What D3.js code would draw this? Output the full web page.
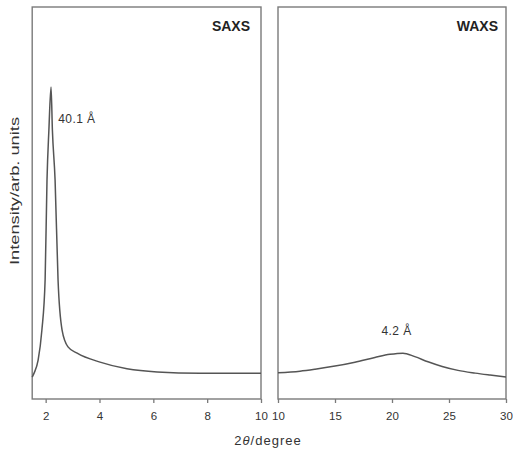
<!DOCTYPE html>
<html>
<head>
<meta charset="utf-8">
<script src="https://cdn.jsdelivr.net/npm/d3@7"></script>
<style>
  body { margin: 0; background: #fff; }
  svg { font-family: "Liberation Sans", Arial, sans-serif; }
</style>
</head>
<body>
<svg id="chart"></svg>
<script>
// SAXS curve (2theta in degrees, intensity in arbitrary units)
const saxs_2theta = [1.5, 1.57, 1.72, 1.86, 1.98, 2.05, 2.12, 2.20, 2.25, 2.35, 2.46, 2.61, 2.83, 3.17, 4.02, 5.02, 6.14, 7.74, 10];
const saxs_intensity = [5.6, 6.6, 9.9, 17.6, 30.4, 55.9, 68.6, 79.6, 68.6, 55.9, 30.4, 17.6, 13.3, 11.7, 9.4, 7.7, 6.9, 6.6, 6.6];

// WAXS curve
const waxs_2theta = [10, 11.93, 13.25, 15.0, 16.75, 18.5, 19.82, 20.96, 22.0, 23.16, 24.4, 25.79, 27.3, 28.6, 30];
const waxs_intensity = [6.7, 7.1, 7.6, 8.4, 9.4, 10.6, 11.4, 11.7, 10.8, 9.5, 8.3, 7.3, 6.6, 6.1, 5.6];

const saxs_ticks = [2, 4, 6, 8, 10];
const waxs_ticks = [10, 15, 20, 25, 30];

const width = 513, height = 451;
const top_y = 7, bottom_y = 399;

const svg = d3.select('#chart')
    .attr('width', width)
    .attr('height', height);

// Shared intensity scale
const y_scale = d3.scaleLinear().domain([0, 100]).range([bottom_y, top_y]);

// One panel per technique
const panels = [
    { name: 'SAXS', xs: saxs_2theta, ys: saxs_intensity, ticks: saxs_ticks,
      x: d3.scaleLinear().domain([1.5, 10]).range([32.2, 261]),
      title_pad: 11, label: '40.1 Å', label_x: 2.47, label_y: 70.3, anchor: 'start' },
    { name: 'WAXS', xs: waxs_2theta, ys: waxs_intensity, ticks: waxs_ticks,
      x: d3.scaleLinear().domain([10, 30]).range([278, 506]),
      title_pad: 8, label: '4.2 Å', label_x: 20.4, label_y: 16.3, anchor: 'middle' }
];

panels.forEach(function (p) {
    const x0 = p.x.range()[0], x1 = p.x.range()[1];

    // Frame around the panel
    svg.append('rect')
        .attr('x', x0).attr('y', top_y)
        .attr('width', x1 - x0).attr('height', bottom_y - top_y)
        .attr('fill', 'none')
        .attr('stroke', '#7a7a7a')
        .attr('stroke-width', 1.4);

    // Bottom axis with tick marks pointing outwards
    const axis = svg.append('g')
        .attr('transform', 'translate(0,' + bottom_y + ')')
        .call(d3.axisBottom(p.x).tickValues(p.ticks).tickSize(4).tickSizeOuter(0).tickFormat(d3.format('d')));
    axis.select('.domain').remove();
    axis.selectAll('line').attr('stroke', '#7a7a7a').attr('stroke-width', 1.3);
    axis.selectAll('text')
        .attr('y', 13)
        .style('font-size', '11.5px')
        .style('fill', '#333');

    // Scattering curve
    const pts = p.xs.map(function (d, i) { return [d, p.ys[i]]; });
    const line = d3.line()
        .x(function (d) { return p.x(d[0]); })
        .y(function (d) { return y_scale(d[1]); })
        .curve(d3.curveMonotoneX);
    svg.append('path')
        .datum(pts)
        .attr('d', line)
        .attr('fill', 'none')
        .attr('stroke', '#555')
        .attr('stroke-width', 1.5);

    // Panel title
    svg.append('text')
        .attr('x', x1 - p.title_pad)
        .attr('y', 31)
        .attr('text-anchor', 'end')
        .style('font-size', '14px')
        .style('font-weight', 'bold')
        .style('fill', '#222')
        .text(p.name);

    // d-spacing label
    svg.append('text')
        .attr('x', p.x(p.label_x))
        .attr('y', y_scale(p.label_y))
        .attr('text-anchor', p.anchor)
        .style('font-size', '12px')
        .style('letter-spacing', '0.4px')
        .style('fill', '#333')
        .text(p.label);
});

// Axis titles
const xt = svg.append('text')
    .attr('x', 268)
    .attr('y', 445)
    .attr('text-anchor', 'middle')
    .style('font-size', '13px')
    .style('letter-spacing', '1px')
    .style('fill', '#333');
xt.append('tspan').text('2');
xt.append('tspan').style('font-style', 'italic').text('θ');
xt.append('tspan').text('/degree');

svg.append('text')
    .attr('transform', 'translate(19,191) rotate(-90)')
    .attr('text-anchor', 'middle')
    .attr('textLength', 148)
    .attr('lengthAdjust', 'spacingAndGlyphs')
    .style('font-size', '13px')
    .style('fill', '#333')
    .text('Intensity/arb. units');
</script>
</body>
</html>
